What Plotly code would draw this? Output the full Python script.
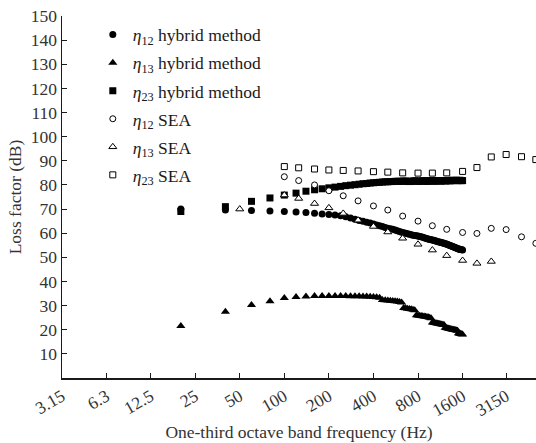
import plotly.graph_objects as go

# ---- data ----
hybrid_freq = [20, 40, 60, 80, 100, 120, 140, 160, 180, 200,
               220, 240, 260, 280, 300, 320, 340, 360, 380, 400,
               420, 440, 460, 480, 500, 520, 540, 560, 580, 600,
               620, 640, 660, 680, 700, 720, 740, 760, 780, 800,
               820, 840, 860, 880, 900, 920, 940, 960, 980, 1000,
               1020, 1040, 1060, 1080, 1100, 1120, 1140, 1160, 1180, 1200,
               1220, 1240, 1260, 1280, 1300, 1320, 1340, 1360, 1380, 1400,
               1420, 1440, 1460, 1480, 1500, 1520, 1540, 1560, 1580, 1600]

eta12_hybrid = [70.0, 69.6, 69.4, 69.2, 69.0, 68.8, 68.6, 68.3, 68.0, 67.8,
                67.5, 67.2, 66.8, 66.3, 65.8, 65.3, 64.9, 64.5, 64.2, 63.8,
                63.4, 63.1, 62.8, 62.4, 62.0, 61.8, 61.6, 61.3, 61.0, 60.7,
                60.4, 60.2, 60.0, 59.8, 59.6, 59.4, 59.2, 59.0, 58.9, 58.8,
                58.6, 58.5, 58.3, 58.1, 57.9, 57.7, 57.6, 57.4, 57.3, 57.2,
                57.1, 56.9, 56.8, 56.6, 56.5, 56.3, 56.2, 56.0, 55.9, 55.8,
                55.6, 55.5, 55.4, 55.2, 55.0, 54.9, 54.7, 54.6, 54.4, 54.3,
                54.1, 54.0, 53.8, 53.7, 53.5, 53.4, 53.3, 53.2, 53.1, 53.0]

eta13_hybrid = [21.5, 27.5, 30.3, 31.8, 33.2, 33.6, 33.8, 34.0, 34.0, 34.0,
                34.0, 34.0, 34.0, 33.9, 33.9, 33.9, 33.8, 33.8, 33.7, 33.6,
                33.5, 33.3, 32.3, 32.2, 32.1, 32.0, 31.9, 31.8, 31.7, 31.5,
                31.3, 29.0, 28.9, 28.7, 28.6, 28.5, 28.3, 28.1, 26.0, 25.9,
                25.8, 25.7, 25.6, 25.5, 25.4, 25.3, 25.2, 25.0, 24.8, 23.0,
                22.9, 22.8, 22.7, 22.6, 22.5, 22.4, 22.3, 22.2, 22.1, 22.0,
                20.8, 20.7, 20.6, 20.5, 20.4, 20.3, 20.2, 20.1, 20.0, 20.0,
                19.9, 19.8, 19.7, 19.6, 18.5, 18.4, 18.3, 18.2, 18.1, 18.0]

eta23_hybrid = [69.0, 71.0, 73.2, 74.6, 75.8, 76.6, 77.4, 78.0, 78.4, 78.8,
                79.1, 79.4, 79.7, 79.9, 80.1, 80.3, 80.5, 80.6, 80.8, 80.9,
                81.0, 81.1, 81.2, 81.3, 81.3, 81.4, 81.4, 81.5, 81.5, 81.5,
                81.5, 81.6, 81.6, 81.5, 81.4, 81.5, 81.6, 81.7, 81.6, 81.5,
                81.5, 81.6, 81.7, 81.7, 81.6, 81.5, 81.6, 81.7, 81.8, 81.7,
                81.6, 81.6, 81.7, 81.8, 81.8, 81.7, 81.6, 81.7, 81.8, 81.8,
                81.7, 81.7, 81.8, 81.9, 81.8, 81.7, 81.8, 81.9, 81.9, 81.8,
                81.8, 81.9, 81.9, 81.8, 81.8, 81.9, 81.9, 81.8, 81.8, 81.8]

sea_freq_12 = [100, 125, 160, 200, 250, 315, 400, 500, 630, 800,
               1000, 1250, 1600, 2000, 2500, 3150, 4000, 5000]
eta12_sea = [83.4, 81.8, 80.0, 77.6, 75.5, 73.4, 71.3, 69.6, 67.1, 65.0,
             63.1, 61.6, 60.3, 59.9, 62.0, 61.5, 58.5, 55.8]

sea_freq_13 = [50, 100, 125, 160, 200, 250, 315, 400, 500, 630,
               800, 1000, 1250, 1600, 2000, 2500]
eta13_sea = [70.0, 75.8, 74.4, 72.3, 70.5, 68.2, 65.4, 62.8, 60.5, 57.9,
             55.4, 53.0, 50.7, 48.7, 47.5, 48.3]

sea_freq_23 = [100, 125, 160, 200, 250, 315, 400, 500, 630, 800,
               1000, 1250, 1600, 2000, 2500, 3150, 4000, 5000]
eta23_sea = [87.6, 87.1, 86.6, 86.2, 86.0, 85.8, 85.5, 85.3, 85.0, 84.9,
             84.9, 85.0, 85.6, 87.2, 91.6, 92.6, 91.7, 90.5]

x_tick_vals = [3.15, 6.3, 12.5, 25, 50, 100, 200, 400, 800, 1600, 3150]
x_tick_text = ["3.15", "6.3", "12.5", "25", "50", "100", "200", "400", "800", "1600", "3150"]
y_tick_vals = [10, 20, 30, 40, 50, 60, 70, 80, 90, 100, 110, 120, 130, 140, 150]

FONT = "Liberation Serif, Times New Roman, serif"
INK = "#1a1a1a"
TXT = "#333333"
FS = 17.5

fig = go.Figure()

def add(x, y, name, symbol, filled, size, group):
    if filled:
        marker = dict(symbol=symbol, size=size, color="black", line=dict(width=0))
    else:
        marker = dict(symbol=symbol, size=size, color="white",
                      line=dict(width=1, color="black"))
    fig.add_trace(go.Scatter(x=x, y=y, mode="markers", name=name, marker=marker,
                             legendgroup=group, cliponaxis=False))

add(hybrid_freq, eta12_hybrid, "<i>η</i><sub>12</sub> hybrid method", "circle", True, 7, "a")
add(hybrid_freq, eta13_hybrid, "<i>η</i><sub>13</sub> hybrid method", "triangle-up", True, 8, "b")
add(hybrid_freq, eta23_hybrid, "<i>η</i><sub>23</sub> hybrid method", "square", True, 7, "c")
add(sea_freq_12, eta12_sea, "<i>η</i><sub>12</sub> SEA", "circle", False, 6, "d")
add(sea_freq_13, eta13_sea, "<i>η</i><sub>13</sub> SEA", "triangle-up", False, 7, "e")
add(sea_freq_23, eta23_sea, "<i>η</i><sub>23</sub> SEA", "square", False, 6, "f")

fig.update_layout(
    width=536, height=443,
    margin=dict(l=62, r=0, t=16, b=65),
    paper_bgcolor="white", plot_bgcolor="white",
    font=dict(family=FONT, size=FS, color=TXT),
    legend=dict(x=0.065, y=0.998, xanchor="left", yanchor="top",
                bgcolor="rgba(0,0,0,0)", tracegroupgap=2.3,
                font=dict(family=FONT, size=FS, color="#1a1a1a")),
    xaxis=dict(type="log", range=[0.4983, 3.70], automargin=False,
               tickvals=x_tick_vals, ticktext=x_tick_text, tickangle=-30,
               ticks="inside", ticklen=5, tickcolor=INK,
               showline=True, linecolor=INK, linewidth=1.5,
               showgrid=False, zeroline=False, ticklabeloverflow="allow",
               tickfont=dict(family=FONT, size=FS, color=TXT),
               title=dict(text="One-third octave band frequency (Hz)",
                          font=dict(family=FONT, size=FS, color=TXT),
                          standoff=6)),
    yaxis=dict(range=[0, 150], tickvals=y_tick_vals, automargin=False,
               ticks="inside", ticklen=5, tickcolor=INK,
               showline=True, linecolor=INK, linewidth=1.5,
               showgrid=False, zeroline=False, ticklabeloverflow="allow",
               tickfont=dict(family=FONT, size=FS, color=TXT),
               title=dict(text="Loss factor (dB)",
                          font=dict(family=FONT, size=FS, color=TXT),
                          standoff=4)),
)

# remove the page's default body margin so the 536x443 figure fills the window exactly
fig.write_html("out.html",
               config={"displayModeBar": False, "staticPlot": True},
               post_script="document.body.style.margin='0';document.body.style.overflow='hidden';")
